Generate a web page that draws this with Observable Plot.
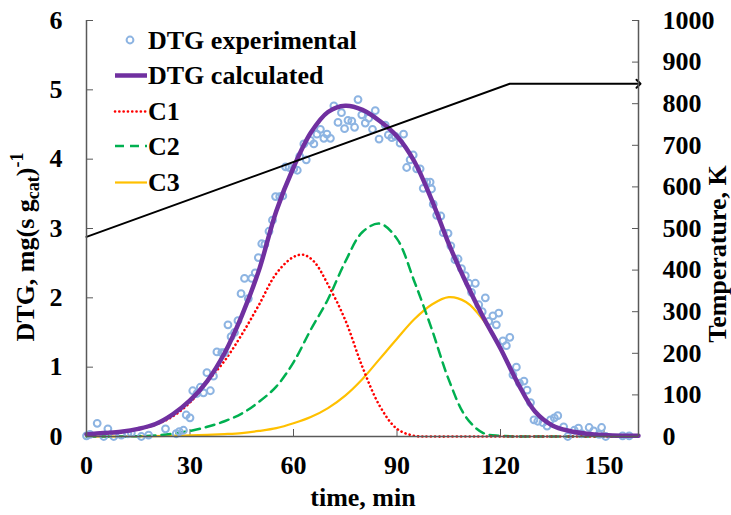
<!DOCTYPE html>
<html><head><meta charset="utf-8">
<script src="https://cdn.jsdelivr.net/npm/d3@7"></script>
<script src="https://cdn.jsdelivr.net/npm/@observablehq/plot@0.6"></script>
<style>body{margin:0;background:#fff}</style>
</head><body><div id="chart"></div>
<script>
// ---------- data ----------
const xDomain = [0, 160];
const yDomain = [0, 6];
const xTicks = [0, 30, 60, 90, 120, 150];
const yTicks = [0, 1, 2, 3, 4, 5, 6];
const tempTicks = [0, 100, 200, 300, 400, 500, 600, 700, 800, 900, 1000];
const tempMax = 1000;

const expT = [0,1,3.1,5,6.2,7.9,10.1,12,13,15.9,18,22.9,26,26.9,28.1,28.9,30,
  30.8,32,33,33.9,34.9,35.9,36.8,37.8,39.2,40,41,41.9,42.9,43.9,44.8,45.8,46.9,47.9,48.9,49.8,50.8,51.7,
  52.9,53.9,54.8,56,56.9,57.7,58.7,60.1,61.1,61.8,63,63.7,64.9,65.9,66.8,67.8,68.8,69.7,70.7,71.7,72.9,73.9,74.8,75.8,76.9,77.7,78.7,79.8,80.8,81.8,82.9,83.7,84.8,86.6,87.5,88.5,89.5,90.9,91.9,92.8,93.8,94.7,95.7,96.7,97.6,98.6,
  99.6,100,100.5,101.5,102.7,103.4,104.8,105.6,106.8,107.7,108.7,109.8,110.8,111.6,112.7,113.7,114.7,115.6,116.6,117.8,118.8,119.5,120.7,121.7,122.7,123.6,124.6,125.5,126.8,127.7,128.7,129.7,130.8,132.3,133.5,134.5,135.6,136.6,138.3,139.5,141.4,142.6,143.5,145.7,147,148.6,149.3,150.5,155.4,157.3];
const expV = [0.01,0.03,0.19,0.0,0.11,0.0,0.02,0.04,0.05,0.0,0.02,0.11,0.04,0.07,0.09,0.31,0.27,
  0.66,0.62,0.71,0.63,0.92,0.66,0.87,1.22,1.21,1.21,1.61,1.44,1.50,1.67,2.06,2.28,1.99,2.28,2.36,2.58,2.78,2.77,
  2.96,3.12,3.46,3.46,3.47,3.89,3.88,3.86,3.84,4.04,4.22,3.99,4.27,4.22,4.36,4.43,4.30,4.36,4.30,4.77,4.53,4.67,4.44,4.56,4.55,4.46,4.86,4.64,4.52,4.59,4.43,4.70,4.29,4.49,4.35,4.31,4.33,4.23,4.36,3.88,3.99,4.06,3.86,3.86,3.58,3.67,
  3.67,3.57,3.35,3.19,3.18,2.94,2.93,2.75,2.55,2.56,2.42,2.32,2.21,2.08,2.21,1.90,1.80,2.00,1.66,1.74,1.61,1.78,1.38,1.31,1.43,0.89,1.00,0.77,0.80,0.67,0.49,0.24,0.22,0.20,0.15,0.24,0.27,0.30,0.14,0.00,0.09,0.12,0.04,0.13,0.08,0.03,0.13,0.00,0.01,0.01];

const calcT = [0,5,10,15,20,25,30,35,40,45,50,55,60,65,70,75,80,85,90,95,100,105,110,115,120,125,130,135,140,145,150,155,160];
const calcV = [0.03,0.05,0.07,0.11,0.18,0.32,0.52,0.80,1.20,1.74,2.40,3.25,3.88,4.38,4.68,4.77,4.71,4.55,4.33,3.97,3.42,2.78,2.22,1.72,1.27,0.77,0.36,0.16,0.08,0.04,0.02,0.01,0.01];

const c1T = [0,5,10,15,20,25,30,35,40,45,50,55,60,63,66,70,75,80,85,90,95,100,110,120,140,160];
const c1V = [0.03,0.04,0.06,0.10,0.17,0.29,0.49,0.79,1.09,1.47,1.90,2.35,2.59,2.62,2.52,2.19,1.68,1.00,0.44,0.11,0.01,0,0,0,0,0];

const c2T = [0,10,15,20,25,30,35,40,45,50,55,60,65,70,75,80,85,90,95,100,105,110,115,120,130,140,160];
const c2V = [0,0,0.005,0.015,0.04,0.08,0.14,0.22,0.33,0.50,0.72,1.07,1.54,1.98,2.52,2.95,3.07,2.85,2.24,1.56,0.82,0.28,0.05,0.01,0,0,0];

const c3T = [0,10,20,30,40,45,50,55,60,65,70,75,80,85,90,95,100,105,110,115,120,125,130,135,140,145,150,155,160];
const c3V = [0,0,0.005,0.015,0.035,0.05,0.08,0.12,0.19,0.28,0.41,0.59,0.83,1.12,1.41,1.69,1.90,2.01,1.94,1.68,1.26,0.77,0.36,0.16,0.07,0.03,0.01,0,0];

const tempT = [0, 122.7, 160];
const tempK = [480, 848, 848];

const seriesNames = ["DTG experimental", "DTG calculated", "C1", "C2", "C3"];

// ---------- build ----------
const FONT = "Liberation Serif, Times New Roman, serif";
const toY = k => k * yDomain[1] / tempMax;
const zip = (T, V) => T.map((t, i) => ({t, v: V[i]}));

const exp = zip(expT, expV);
const calc = zip(calcT, calcV);
const c1 = zip(c1T, c1V);
const c2 = zip(c2T, c2V);
const c3 = zip(c3T, c3V);
const temp = tempT.map((t, i) => ({t, v: toY(tempK[i])}));

const COL = {exp: "#8DB4E2", calc: "#7030A0", c1: "#FF0000", c2: "#00B050", c3: "#FFC000", axis: "#595959"};
const DOTS = "0.1,4.2";

const chart = Plot.plot({
  width: 731, height: 515,
  marginLeft: 86, marginRight: 93, marginTop: 20, marginBottom: 79,
  x: {domain: xDomain},
  y: {domain: yDomain},
  style: {fontFamily: FONT, fontSize: "26px", fontWeight: "bold", background: "#fff", color: "#000", overflow: "visible"},
  marks: [
    Plot.axisX({ticks: xTicks, tickFormat: d => String(d), tickSize: -7, tickPadding: 26, label: null, stroke: COL.axis}),
    Plot.axisY({anchor: "left", ticks: yTicks, tickFormat: d => String(d), tickSize: -7, tickPadding: 31, label: null, stroke: COL.axis}),
    Plot.axisY({anchor: "right", ticks: tempTicks.map(toY), tickFormat: d => String(Math.round(d * tempMax / yDomain[1])),
                tickSize: -7, tickPadding: 31, label: null, stroke: COL.axis}),
    Plot.line(c3, {x: "t", y: "v", stroke: COL.c3, strokeWidth: 2.2, curve: "catmull-rom"}),
    Plot.line(c2, {x: "t", y: "v", stroke: COL.c2, strokeWidth: 2.5, strokeDasharray: "9,6", curve: "catmull-rom"}),
    Plot.line(c1, {x: "t", y: "v", stroke: COL.c1, strokeWidth: 2.6, strokeDasharray: DOTS, strokeLinecap: "round", curve: "catmull-rom"}),
    Plot.dot(exp, {x: "t", y: "v", r: 3.4, stroke: COL.exp, strokeWidth: 2, fill: "none"}),
    Plot.line(calc, {x: "t", y: "v", stroke: COL.calc, strokeWidth: 4.5, curve: "catmull-rom"}),
    Plot.line(temp, {x: "t", y: "v", stroke: "#000", strokeWidth: 2, markerEnd: "arrow"}),
    Plot.ruleY([yDomain[0]], {stroke: COL.axis, strokeWidth: 1.5}),
    Plot.ruleX(xDomain, {stroke: COL.axis, strokeWidth: 1.5})
  ]
});
document.getElementById("chart").appendChild(chart);

// ---------- legend & axis titles ----------
const svg = d3.select(chart);
const lg = svg.append("g").attr("font-family", FONT).attr("font-size", 26).attr("font-weight", "bold")
  .attr("text-anchor", "start");
const rows = [
  {name: seriesNames[0], y: 40, kind: "dot", color: COL.exp},
  {name: seriesNames[1], y: 75.5, kind: "line", color: COL.calc, w: 4.5, dash: null},
  {name: seriesNames[2], y: 111.5, kind: "line", color: COL.c1, w: 2.6, dash: DOTS, cap: "round"},
  {name: seriesNames[3], y: 146, kind: "line", color: COL.c2, w: 2.5, dash: "9,6"},
  {name: seriesNames[4], y: 182.5, kind: "line", color: COL.c3, w: 2.2, dash: null}
];
rows.forEach(r => {
  if (r.kind === "dot") {
    lg.append("circle").attr("cx", 130).attr("cy", r.y).attr("r", 3.4)
      .attr("fill", "none").attr("stroke", r.color).attr("stroke-width", 2);
  } else {
    lg.append("line").attr("x1", 115).attr("x2", 147).attr("y1", r.y).attr("y2", r.y)
      .attr("stroke", r.color).attr("stroke-width", r.w).attr("stroke-dasharray", r.dash)
      .attr("stroke-linecap", r.cap || null);
  }
  lg.append("text").attr("x", 148).attr("y", r.y + 8.5).attr("text-anchor", "start").text(r.name);
});

// x title
svg.append("text").attr("x", 363).attr("y", 506).attr("text-anchor", "middle")
  .attr("font-family", FONT).attr("font-size", 26).attr("font-weight", "bold").text("time, min");

// left y title
const ly = svg.append("text").attr("transform", "translate(34,247) rotate(-90)")
  .attr("text-anchor", "middle").attr("font-family", FONT).attr("font-size", 26).attr("font-weight", "bold");
ly.append("tspan").text("DTG, mg(s g");
ly.append("tspan").attr("font-size", 18).attr("dy", 5).text("cat");
ly.append("tspan").attr("dy", -5).text(")");
ly.append("tspan").attr("font-size", 18).attr("dy", -11).text("-1");

// right y title
svg.append("text").attr("transform", "translate(726,254) rotate(-90)").attr("text-anchor", "middle")
  .attr("font-family", FONT).attr("font-size", 26).attr("font-weight", "bold").text("Temperature, K");
</script>
</body></html>
